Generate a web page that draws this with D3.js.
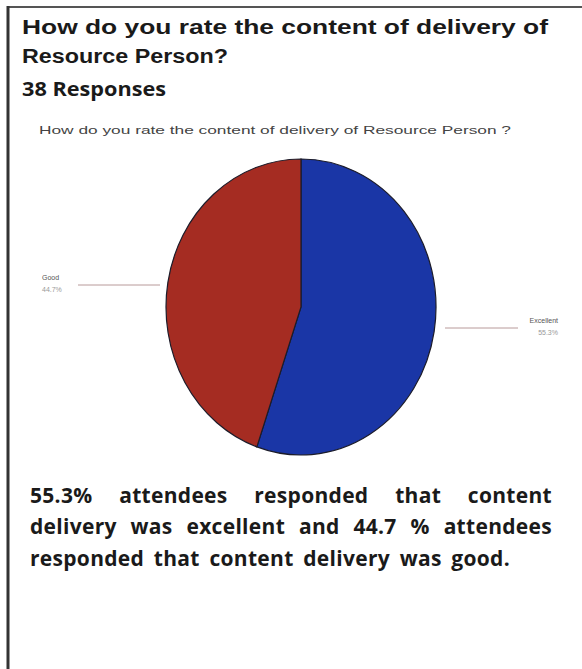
<!DOCTYPE html>
<html><head><meta charset="utf-8">
<script src="https://cdn.jsdelivr.net/npm/d3@7"></script>
<style>body{margin:0;background:#fff}svg{display:block}</style>
</head><body>
<script>
const categories = ["Excellent", "Good"];
const values = [55.3, 44.7];
const valueLabels = ["55.3%", "44.7%"];
const colors = ["#1a36a6", "#a52c22"];
const titleLines = ["How do you rate the content of delivery of", "Resource Person?"];
const responsesText = "38 Responses";
const chartTitle = "How do you rate the content of  delivery of Resource Person ?";
const summaryLines = [
  "55.3% attendees responded that content",
  "delivery was excellent and 44.7 % attendees",
  "responded that content delivery was good."
];

const W = 582, H = 669;
const svg = d3.select("body").append("svg").attr("width", W).attr("height", H);
svg.append("rect").attr("width", W).attr("height", H).attr("fill", "#fff");

// frame
svg.append("line").attr("x1", 7).attr("x2", W).attr("y1", 7).attr("y2", 7)
  .attr("stroke", "#555").attr("stroke-width", 2);
svg.append("line").attr("x1", 8).attr("x2", 8).attr("y1", 6).attr("y2", H)
  .attr("stroke", "#333").attr("stroke-width", 3);

// titles
const tl = svg.append("g").attr("font-family", "Liberation Sans, Arial, sans-serif")
  .attr("font-weight", "bold").attr("font-size", 20).attr("fill", "#1a1a1a");
tl.append("text").attr("x", 22).attr("y", 34).attr("textLength", 526)
  .attr("lengthAdjust", "spacingAndGlyphs").text(titleLines[0]);
tl.append("text").attr("x", 22).attr("y", 63).attr("textLength", 206)
  .attr("lengthAdjust", "spacingAndGlyphs").text(titleLines[1]);
svg.append("text").attr("x", 22).attr("y", 96)
  .attr("font-family", "Open Sans, sans-serif").attr("font-weight", "bold")
  .attr("font-size", 19).attr("fill", "#1a1a1a").attr("textLength", 144)
  .attr("lengthAdjust", "spacingAndGlyphs").text(responsesText);

svg.append("text").attr("x", 39).attr("y", 134)
  .attr("font-family", "Liberation Sans Narrow, Liberation Sans, Arial, sans-serif")
  .attr("font-size", 11).attr("fill", "#444").attr("textLength", 472)
  .attr("lengthAdjust", "spacingAndGlyphs").text(chartTitle);

// pie
const cx = 301, cy = 307, rx = 135, ry = 148;
const pie = d3.pie().sort(null).value(d => d)(values);
const arc = d3.arc().innerRadius(0).outerRadius(1);
const pg = svg.append("g").attr("transform", `translate(${cx},${cy}) scale(${rx},${ry})`);
pg.selectAll("path").data(pie).join("path")
  .attr("d", arc).attr("fill", (d, i) => colors[i])
  .attr("stroke", "#1c1c2a").attr("stroke-width", 1.2)
  .attr("vector-effect", "non-scaling-stroke");

// leader labels
const leaders = [
  {x1: 445, x2: 518, y: 328, tx: 558, anchor: "end"},
  {x1: 78, x2: 160, y: 285, tx: 42, anchor: "start"}
];
pie.forEach((d, i) => {
  const L = leaders[i];
  svg.append("line").attr("x1", L.x1).attr("x2", L.x2).attr("y1", L.y).attr("y2", L.y)
    .attr("stroke", "#b89a9a").attr("stroke-width", 1);
  svg.append("text").attr("x", L.tx).attr("y", L.y - 5).attr("text-anchor", L.anchor)
    .attr("font-family", "Liberation Sans, Arial, sans-serif").attr("font-size", 7)
    .attr("fill", "#555").text(categories[i]);
  svg.append("text").attr("x", L.tx).attr("y", L.y + 7).attr("text-anchor", L.anchor)
    .attr("font-family", "Liberation Sans, Arial, sans-serif").attr("font-size", 7)
    .attr("fill", "#999").text(valueLabels[i]);
});

// summary paragraph, justified
const left = 30, right = 552;
const baselines = [503, 534, 566];
const lastWidth = 480;
summaryLines.forEach((line, li) => {
  const words = line.split(" ");
  const g = svg.append("g").attr("font-family", "Open Sans, sans-serif").attr("font-weight", "bold")
    .attr("font-size", 21).attr("letter-spacing", 0.3).attr("fill", "#1a1a1a");
  const nodes = words.map(w => g.append("text").attr("y", baselines[li]).text(w));
  const widths = nodes.map(n => n.node().getComputedTextLength());
  const total = d3.sum(widths);
  const justify = li < summaryLines.length - 1;
  const span = justify ? right - left : lastWidth;
  const gap = Math.max(4, (span - total) / (words.length - 1));
  let x = left;
  nodes.forEach((n, k) => { n.attr("x", x); x += widths[k] + gap; });
});
</script>
</body></html>
